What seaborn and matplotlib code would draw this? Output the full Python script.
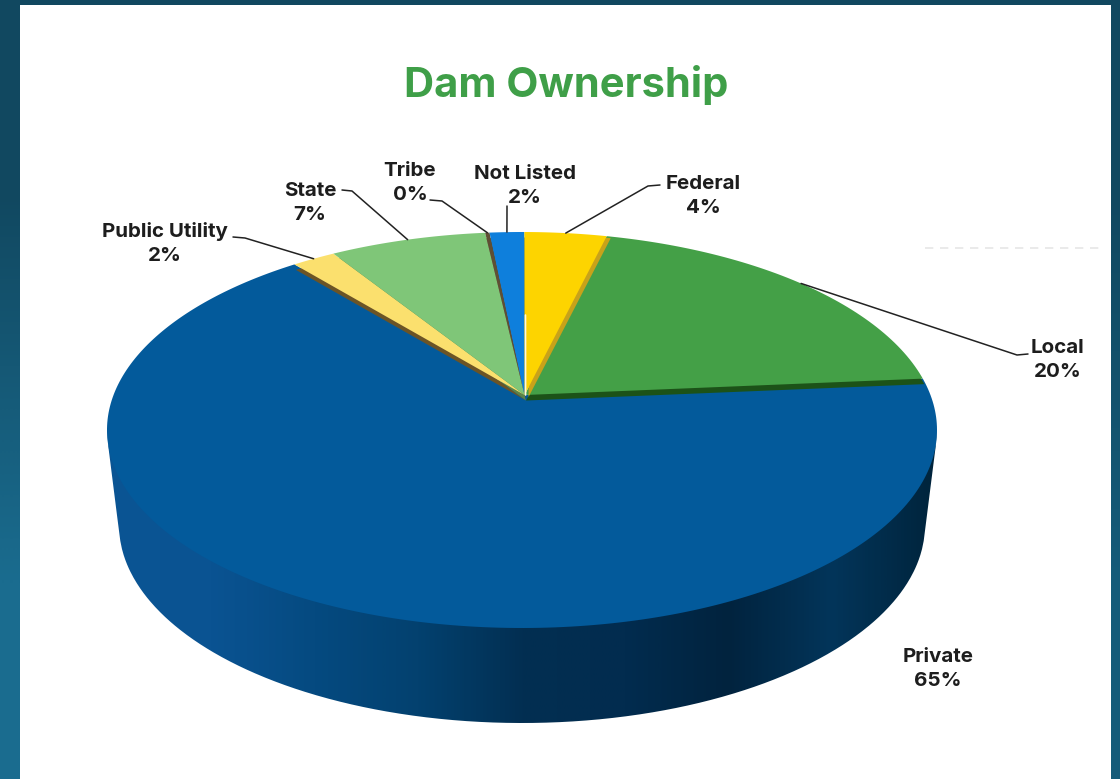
import numpy as np
import matplotlib
matplotlib.use("Agg")
import matplotlib.pyplot as plt
from matplotlib.patches import PathPatch
from matplotlib.path import Path
from matplotlib.transforms import Affine2D, Transform
from matplotlib.colors import LinearSegmentedColormap
import seaborn as sns

# Ownership shares, percent
owners = ["Federal", "Local", "Private", "Public Utility", "State", "Tribe", "Not Listed"]
shares = [3.8, 19.8, 65.4, 2, 7.2, 0.2, 1.6]

top_colors = ["#fdd400", "#44a047", "#035a9b", "#fbe06e", "#7fc678", "#5f4f34", "#0e7fdc"]
lip_colors = ["#c8a21a", "#1c5218", "#035a9b", "#6b5426", "#5c8448", "#4a3d28", "#0e4f8f"]

# Label centres and leader-line ends in figure pixels
label_xy = [(703, 196), (1058, 360), (938, 669), (165, 243.5), (310, 203), (410, 183), (525, 186)]
leader_ends = [
    [(660, 185), (648, 186)],
    [(1028, 354), (1017, 355)],
    None,
    [(233, 237), (245, 238)],
    [(342, 190), (352, 191)],
    [(430, 200), (442, 201)],
    [(507, 206), (507, 208)],
]

# Top-face ellipse and the smaller ellipse of the base
CX, CY, RX, RY = 522.0, 430.0, 415.0, 198.0
BASE_CY, BASE_RX, BASE_RY = 525.0, 403.0, 198.0
APEX_Y = 395.0
TILT = (CY - APEX_Y) / RY
TILT_AXIS = 0.035  # radians off the vertical


class TiltedDisc(Transform):
    """Perspective view of the unit disc: rim stays an ellipse, centre moves back."""
    input_dims = output_dims = 2
    is_affine = False
    has_inverse = False

    def transform_non_affine(self, xy):
        xy = np.asarray(xy, dtype=float)
        c, s = np.cos(TILT_AXIS), np.sin(TILT_AXIS)
        u = c * xy[:, 0] - s * xy[:, 1]
        v = s * xy[:, 0] + c * xy[:, 1]
        w = 1 + TILT * v
        uu = u * np.sqrt(1 - TILT ** 2) / w
        vv = (v + TILT) / w
        xx = c * uu + s * vv
        yy = -s * uu + c * vv
        return np.column_stack([CX + RX * xx, CY - RY * yy])

    def transform_path_non_affine(self, path):
        # Flatten the arcs first so the rim follows the projected curve
        fine = path.transformed(Affine2D().scale(3000))
        poly = fine.to_polygons(closed_only=False)[0] / 3000
        return Path(self.transform_non_affine(poly))


sns.set_theme(style="white")
plt.rcParams["font.family"] = ["Inter", "Open Sans", "DejaVu Sans"]

fig = plt.figure(figsize=(11.2, 7.79), dpi=100)
ax = fig.add_axes([0, 0, 1, 1])

disc = TiltedDisc()

# Slice faces and the thin raised edges beneath them
faces, _ = ax.pie(shares, colors=top_colors, startangle=90, counterclock=False)
lips, _ = ax.pie(shares, colors=lip_colors, startangle=90, counterclock=False)
for i, (face, lip) in enumerate(zip(faces, lips)):
    face.set_linewidth(0)
    lip.set_linewidth(0)
    face.set_transform(disc + ax.transData)
    face.set_zorder(3 if owners[i] == "Private" else 5)
    lip.set_transform(disc + Affine2D().translate(1.5, 5.5) + ax.transData)
    lip.set_zorder(4)
    lip.set_visible(owners[i] != "Private")
    if owners[i] == "Federal":
        # The yellow slice casts its edge over the green one
        lip.set_transform(disc + Affine2D().translate(4, 2) + ax.transData)
        lip.set_zorder(5.5)
        face.set_zorder(5.6)

ax.set_aspect("auto")
ax.set_xlim(0, 1120)
ax.set_ylim(779, 0)
ax.set_xticks([])
ax.set_yticks([])
ax.set_axis_on()
for side in ax.spines.values():
    side.set_visible(False)

# Page background and white panel
shade = np.array([[0.0, 0.0], [1.0, 0.55]])
page_cmap = LinearSegmentedColormap.from_list("page", ["#114860", "#1a6c8f"])
ax.imshow(shade, cmap=page_cmap, vmin=0, vmax=1, extent=(0, 1120, 779, 0),
          interpolation="bilinear", aspect="auto", zorder=0)
ax.fill_between([20, 1111], 5, 779, color="white", lw=0, zorder=1)
ax.hlines(248, 925, 1105, color="#e6e6e6", lw=1.2, ls=(0, (5, 4)), zorder=1.5)

# Side wall: envelope of the ellipses between top face and base
xs = np.linspace(CX - RX, CX + RX, 500)
upper = CY + RY * np.sqrt(np.clip(1 - ((xs - CX) / RX) ** 2, 0, 1))
lower = upper.copy()
for s in np.linspace(0, 1, 80):
    cy = CY + s * (BASE_CY - CY)
    rx = RX + s * (BASE_RX - RX)
    ry = RY + s * (BASE_RY - RY)
    inside = np.abs(xs - CX) <= rx
    y = cy + ry * np.sqrt(1 - ((xs[inside] - CX) / rx) ** 2)
    lower[inside] = np.maximum(lower[inside], y)

wall_stops = ["#0b5594", "#0a5392", "#054a80", "#03416f", "#022f52",
              "#022c4f", "#01233e", "#03355a", "#00243c"]
wall_cmap = sns.blend_palette(wall_stops, as_cmap=True)
wall = ax.imshow(np.linspace(0, 1, 600)[None, :], cmap=wall_cmap, vmin=0, vmax=1,
                 extent=(CX - RX, CX + RX, 779, 300), aspect="auto", zorder=2,
                 interpolation="bilinear")
outline = np.vstack([np.column_stack([xs, upper - 3]),
                     np.column_stack([xs[::-1], lower[::-1]])])
wall.set_clip_path(PathPatch(Path(outline), transform=ax.transData))
ax.set_xlim(0, 1120)
ax.set_ylim(779, 0)

# Short white seam where the first slice begins
seam = disc.transform(np.array([[0.0, 0.0], [0.0, 0.45]]))
ax.plot(seam[:, 0] + 1, seam[:, 1], color="#fff8e0", lw=1.2, zorder=6)

# Labels and leaders
for i, name in enumerate(owners):
    ax.text(*label_xy[i], f"{name}\n{shares[i]:.0f}%", ha="center", va="center",
            fontsize=14.8, fontweight="bold", color="#1d1d1d", linespacing=1.4, zorder=8)
    if leader_ends[i] is None:
        continue
    mid = np.deg2rad((faces[i].theta1 + faces[i].theta2) / 2)
    anchor = disc.transform(np.array([[np.cos(mid), np.sin(mid)]]))[0]
    path_pts = np.array(leader_ends[i] + [tuple(anchor)])
    ax.plot(path_pts[:, 0], path_pts[:, 1], color="#222222", lw=1.1, zorder=7)

ax.text(566, 85, "Dam Ownership", ha="center", va="center", fontsize=30,
        fontweight="bold", color="#3f9f48", zorder=8)

fig.savefig("out.png", dpi=100)
